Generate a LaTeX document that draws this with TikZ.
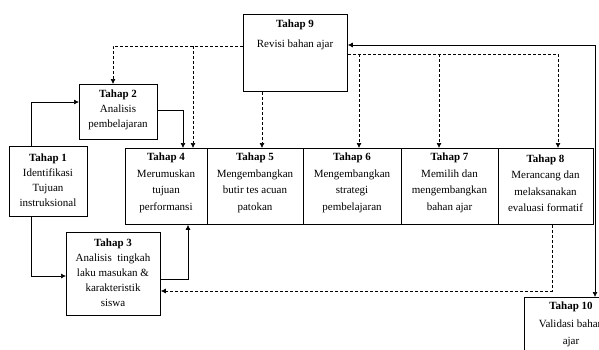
\documentclass[tikz,border=0pt]{standalone}
\usepackage{fontspec}
\setmainfont{Liberation Serif}
\usetikzlibrary{arrows.meta}
\begin{document}
\begin{tikzpicture}[x=1pt,y=-1pt,
  box/.style={draw,line width=0.8pt,inner sep=0pt,anchor=north west},
  txt/.style={align=center,inner sep=0pt,font=\fontsize{11}{15}\selectfont},
  rowtxt/.style={align=center,inner sep=0pt,font=\fontsize{11}{16.5}\selectfont},
  arr/.style={line width=0.7pt,-{Latex[length=5pt,width=5pt]}},
  darr/.style={line width=0.7pt,dash pattern=on 3pt off 2pt,-{Latex[length=5pt,width=5pt]}},
  arrboth/.style={line width=0.7pt,{Latex[length=5pt,width=5pt]}-{Latex[length=5pt,width=5pt]}}]
\useasboundingbox (0,0) rectangle (599,349);
\clip (0,0) rectangle (599,349);
% boxes
\node[box,minimum width=78pt,minimum height=70pt] (t1) at (9,146) {};
\node[box,minimum width=78pt,minimum height=55pt] (t2) at (79,84) {};
\node[box,minimum width=94pt,minimum height=83pt] (t3) at (66,232) {};
\node[box,minimum width=82pt,minimum height=76pt] (t4) at (125,148) {};
\node[box,minimum width=96pt,minimum height=76pt] (t5) at (207,148) {};
\node[box,minimum width=98pt,minimum height=76pt] (t6) at (303,148) {};
\node[box,minimum width=97pt,minimum height=76pt] (t7) at (401,148) {};
\node[box,minimum width=95pt,minimum height=76pt] (t8) at (498,148) {};
\node[box,minimum width=104pt,minimum height=77pt] (t9) at (243,14) {};
\node[box,minimum width=95pt,minimum height=80pt] (t10) at (524,297) {};
% texts
\node[txt] (x1) at (48,180) {\textbf{Tahap 1}\\Identifikasi\\Tujuan\\instruksional};
\node[txt] (x2) at (118,110) {\textbf{Tahap 2}\\Analisis\\pembelajaran};
\node[txt] (x3) at (113,272.5) {\textbf{Tahap 3}\\Analisis~ tingkah\\laku masukan \&\\karakteristik\\siswa};
\node[rowtxt] (x4) at (166,183) {\textbf{Tahap 4}\\Merumuskan\\tujuan\\performansi};
\node[rowtxt] (x5) at (255,183) {\textbf{Tahap 5}\\Mengembangkan\\butir tes acuan\\patokan};
\node[rowtxt] (x6) at (352,183) {\textbf{Tahap 6}\\Mengembangkan\\strategi\\pembelajaran};
\node[rowtxt] (x7) at (449.5,183) {\textbf{Tahap 7}\\Memilih dan\\mengembangkan\\bahan ajar};
\node[rowtxt] (x8) at (545.5,183) {\textbf{Tahap 8}\\Merancang dan\\melaksanakan\\evaluasi formatif};
\node[txt,font=\fontsize{11}{20}\selectfont] (x9) at (295,35) {\textbf{Tahap 9}\\Revisi bahan ajar};
\node[txt,font=\fontsize{11}{17.5}\selectfont] (x10) at (571,324.5) {\textbf{Tahap 10}\\Validasi bahan\\ajar};
% bend coordinates
\coordinate (c1) at (31,102);
\coordinate (c2) at (183,110);
\coordinate (c3) at (31,276);
\coordinate (c4) at (188,279);
\coordinate (c5) at (552,291);
\coordinate (c6) at (113,46);
\coordinate (c7) at (193,46);
\coordinate (c8) at (262,0);
\coordinate (c9) at (558,54);
\coordinate (c10) at (359,54);
\coordinate (c11) at (439,54);
\coordinate (c12) at (595,45);
% solid connectors
\draw[arr] (t1.north -| c1) |- (t2.west |- c1);
\draw[arr] (t2.east |- c2) -| (t4.north -| c2);
\draw[arr] (t1.south -| c3) |- (t3.west |- c3);
\draw[arr] (t3.east |- c4) -| (t4.south -| c4);
\draw[arrboth] (t9.east |- c12) -| (t10.north -| c12);
% dashed connectors
\draw[darr] (t8.south -| c5) |- (t3.east |- c5);
\draw[darr] (t9.west |- c6) -| (t2.north -| c6);
\draw[darr] (c7) -- (t4.north -| c7);
\draw[darr] (t9.south -| c8) -- (t5.north -| c8);
\draw[darr] (t9.east |- c9) -| (t8.north -| c9);
\draw[darr] (c10) -- (t6.north -| c10);
\draw[darr] (c11) -- (t7.north -| c11);
\end{tikzpicture}
\end{document}
